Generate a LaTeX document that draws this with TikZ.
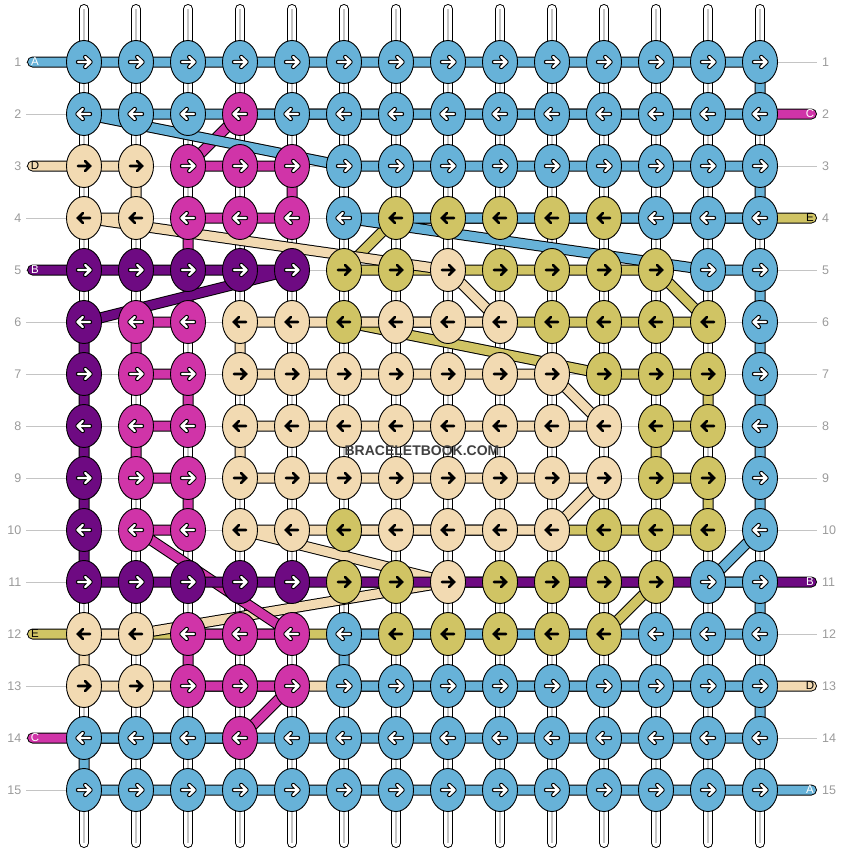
\documentclass[tikz,border=0pt]{standalone}
\usepackage{fontspec}
\setmainfont{Liberation Sans}
\usetikzlibrary{shapes.geometric}
\pgfdeclarelayer{grid}
\pgfdeclarelayer{strings}
\pgfsetlayers{grid,strings,main}
\definecolor{cA}{HTML}{67B2D8}
\definecolor{cB}{HTML}{6E0A82}
\definecolor{cC}{HTML}{D034A8}
\definecolor{cD}{HTML}{F2DAB2}
\definecolor{cE}{HTML}{D0C464}
\definecolor{guide}{HTML}{C4C4C4}
\definecolor{lab}{HTML}{9A9A9A}
\definecolor{wmark}{HTML}{404040}
\def\dka{1}\def\dkb{1}\def\dkc{1}\def\dkd{0}\def\dke{0}
\tikzset{
  knot/.style={ellipse, draw=black, line width=0.9pt, minimum width=35pt, minimum height=43pt, inner sep=0pt},
  knota/.style={knot, fill=cA}, knotb/.style={knot, fill=cB}, knotc/.style={knot, fill=cC},
  knotd/.style={knot, fill=cD}, knote/.style={knot, fill=cE},
  strand/.style={draw=black, line width=1pt, double distance=9pt, line cap=round, line join=round},
  strA/.style={strand, double=cA}, strB/.style={strand, double=cB}, strC/.style={strand, double=cC},
  strD/.style={strand, double=cD}, strE/.style={strand, double=cE},
  warp/.style={draw=black, line width=1pt, double=white, double distance=8pt, line cap=round},
  warpmid/.style={draw=guide, line width=1.2pt},
  guideline/.style={draw=guide, line width=1pt},
  arrowout/.style={draw=black, line width=4.4pt, line cap=round, line join=round},
  arrowwhite/.style={draw=white, line width=2.4pt, line cap=round, line join=round},
  arrowblack/.style={draw=black, line width=2.8pt, line cap=round, line join=miter},
  lbl/.style={inner sep=0pt, text=lab, font=\fontsize{12.5}{12.5}\selectfont},
  stubtxt/.style={inner sep=0pt, font=\fontsize{11.5}{11.5}\selectfont},
}
\begin{document}
\begin{tikzpicture}[x=1pt, y=-1pt]
\useasboundingbox (0,0) rectangle (844,852);
% guides, labels and warp strings
\begin{pgfonlayer}{grid}
\foreach \r in {1,...,15} {
  \coordinate (gl\r) at (26,{10+52*\r});
  \coordinate (gr\r) at (817,{10+52*\r});
  \draw[guideline] (gl\r) -- (gr\r);
}
\foreach \c in {1,...,14} {
  \coordinate (vt\c) at ({32+52*\c},9);
  \coordinate (vb\c) at ({32+52*\c},843);
  \draw[warp] (vt\c) -- (vb\c);
  \draw[warpmid] (vt\c) -- (vb\c);
}
\end{pgfonlayer}
\foreach \r in {1,...,15} {
  \node[lbl, anchor=east] (ll\r) at (21.5,{10+52*\r}) {\r};
  \node[lbl, anchor=west] (lr\r) at (822,{10+52*\r}) {\r};
}
% knots
\foreach \r/\row in {
 1/{a,a,a,a,a,a,a,a,a,a,a,a,a,a},
 2/{a,a,a,c,a,a,a,a,a,a,a,a,a,a},
 3/{d,d,c,c,c,a,a,a,a,a,a,a,a,a},
 4/{d,d,c,c,c,a,e,e,e,e,e,a,a,a},
 5/{b,b,b,b,b,e,e,d,e,e,e,e,a,a},
 6/{b,c,c,d,d,e,d,d,d,e,e,e,e,a},
 7/{b,c,c,d,d,d,d,d,d,d,e,e,e,a},
 8/{b,c,c,d,d,d,d,d,d,d,d,e,e,a},
 9/{b,c,c,d,d,d,d,d,d,d,d,e,e,a},
 10/{b,c,c,d,d,e,d,d,d,d,e,e,e,a},
 11/{b,b,b,b,b,e,e,d,e,e,e,e,a,a},
 12/{d,d,c,c,c,a,e,e,e,e,e,a,a,a},
 13/{d,d,c,c,c,a,a,a,a,a,a,a,a,a},
 14/{a,a,a,c,a,a,a,a,a,a,a,a,a,a},
 15/{a,a,a,a,a,a,a,a,a,a,a,a,a,a}} {
  \pgfmathsetmacro\yy{10+52*\r}
  \pgfmathsetmacro\dir{ifthenelse(mod(\r,2)==1,1,-1)}
  \foreach \k [count=\c] in \row {
    \pgfmathsetmacro\xx{32+52*\c}
    \node[knot\k] (k\c-\r) at (\xx,\yy) {};
    \begin{scope}[shift={(\xx,\yy)}, xscale=\dir]
      \ifnum\csname dk\k\endcsname=1
        \draw[arrowout] (-6,0) -- (6.5,0) (1.2,-5) -- (6.5,0) -- (1.2,5);
        \draw[arrowwhite] (-6,0) -- (6.5,0) (1.2,-5) -- (6.5,0) -- (1.2,5);
      \else
        \draw[arrowblack] (-6,0) -- (6,0) (1.2,-4.8) -- (6,0) -- (1.2,4.8);
      \fi
    \end{scope}
  }
}
% stub ends
\coordinate (sL1) at (32.5,62);
\coordinate (sL3) at (32.5,166);
\coordinate (sL5) at (32.5,270);
\coordinate (sL12) at (32.5,634);
\coordinate (sL14) at (32.5,738);
\coordinate (sR2) at (811.5,114);
\coordinate (sR4) at (811.5,218);
\coordinate (sR11) at (811.5,582);
\coordinate (sR13) at (811.5,686);
\coordinate (sR15) at (811.5,790);
% knotting strings, bottom to top: E, D, C, B, A
\begin{pgfonlayer}{strings}
\draw[strE] (sR4) -- (k11-4.center) -- (k7-4.center) -- (k6-5.center) -- (k12-5.center)
  -- (k13-6.center) -- (k6-6.center) -- (k11-7.center) -- (k13-7.center) -- (k13-8.center)
  -- (k12-8.center) -- (k12-9.center) -- (k13-9.center) -- (k13-10.center) -- (k6-10.center)
  -- (k6-11.center) -- (k12-11.center) -- (k11-12.center) -- (k7-12.center) -- (sL12);
\draw[strD] (sL3) -- (k1-3.center) -- (k2-3.center) -- (k2-4.center) -- (k1-4.center)
  -- (k8-5.center) -- (k9-6.center) -- (k4-6.center) -- (k4-7.center) -- (k10-7.center)
  -- (k11-8.center) -- (k4-8.center) -- (k4-9.center) -- (k11-9.center) -- (k10-10.center)
  -- (k4-10.center) -- (k8-11.center) -- (k2-12.center) -- (k1-12.center) -- (k1-13.center) -- (sR13);
\draw[strC] (sR2) -- (k4-2.center) -- (k3-3.center) -- (k5-3.center) -- (k5-4.center)
  -- (k3-4.center) -- (k3-6.center) -- (k2-6.center) -- (k2-7.center) -- (k3-7.center)
  -- (k3-8.center) -- (k2-8.center) -- (k2-9.center) -- (k3-9.center) -- (k3-10.center)
  -- (k2-10.center) -- (k5-12.center) -- (k3-12.center) -- (k3-13.center) -- (k5-13.center)
  -- (k4-14.center) -- (sL14);
\draw[strB] (sL5) -- (k1-5.center) -- (k5-5.center) -- (k1-6.center) -- (k1-11.center) -- (sR11);
\draw[strA] (sL1) -- (k1-1.center) -- (k14-1.center) -- (k14-2.center) -- (k1-2.center)
  -- (k6-3.center) -- (k14-3.center) -- (k14-4.center) -- (k6-4.center) -- (k13-5.center)
  -- (k14-5.center) -- (k14-10.center) -- (k13-11.center) -- (k14-11.center) -- (k14-12.center)
  -- (k6-12.center) -- (k6-13.center) -- (k14-13.center) -- (k14-14.center) -- (k1-14.center)
  -- (k1-15.center) -- (k14-15.center) -- (sR15);
\end{pgfonlayer}
% stub letters
\node[stubtxt, text=white] (tA1) at (35,62) {A};
\node[stubtxt, text=black] (tD3) at (35,166) {D};
\node[stubtxt, text=white] (tB5) at (35,270) {B};
\node[stubtxt, text=black] (tE12) at (35,634) {E};
\node[stubtxt, text=white] (tC14) at (35,738) {C};
\node[stubtxt, text=white] (tC2) at (810,114) {C};
\node[stubtxt, text=black] (tE4) at (810,218) {E};
\node[stubtxt, text=white] (tB11) at (810,582) {B};
\node[stubtxt, text=black] (tD13) at (810,686) {D};
\node[stubtxt, text=white] (tA15) at (810,790) {A};
% watermark
\node[inner sep=0pt, text=wmark, font=\bfseries\fontsize{14}{14}\selectfont] (wm) at (422,451) {BRACELETBOOK.COM};
\end{tikzpicture}
\end{document}
